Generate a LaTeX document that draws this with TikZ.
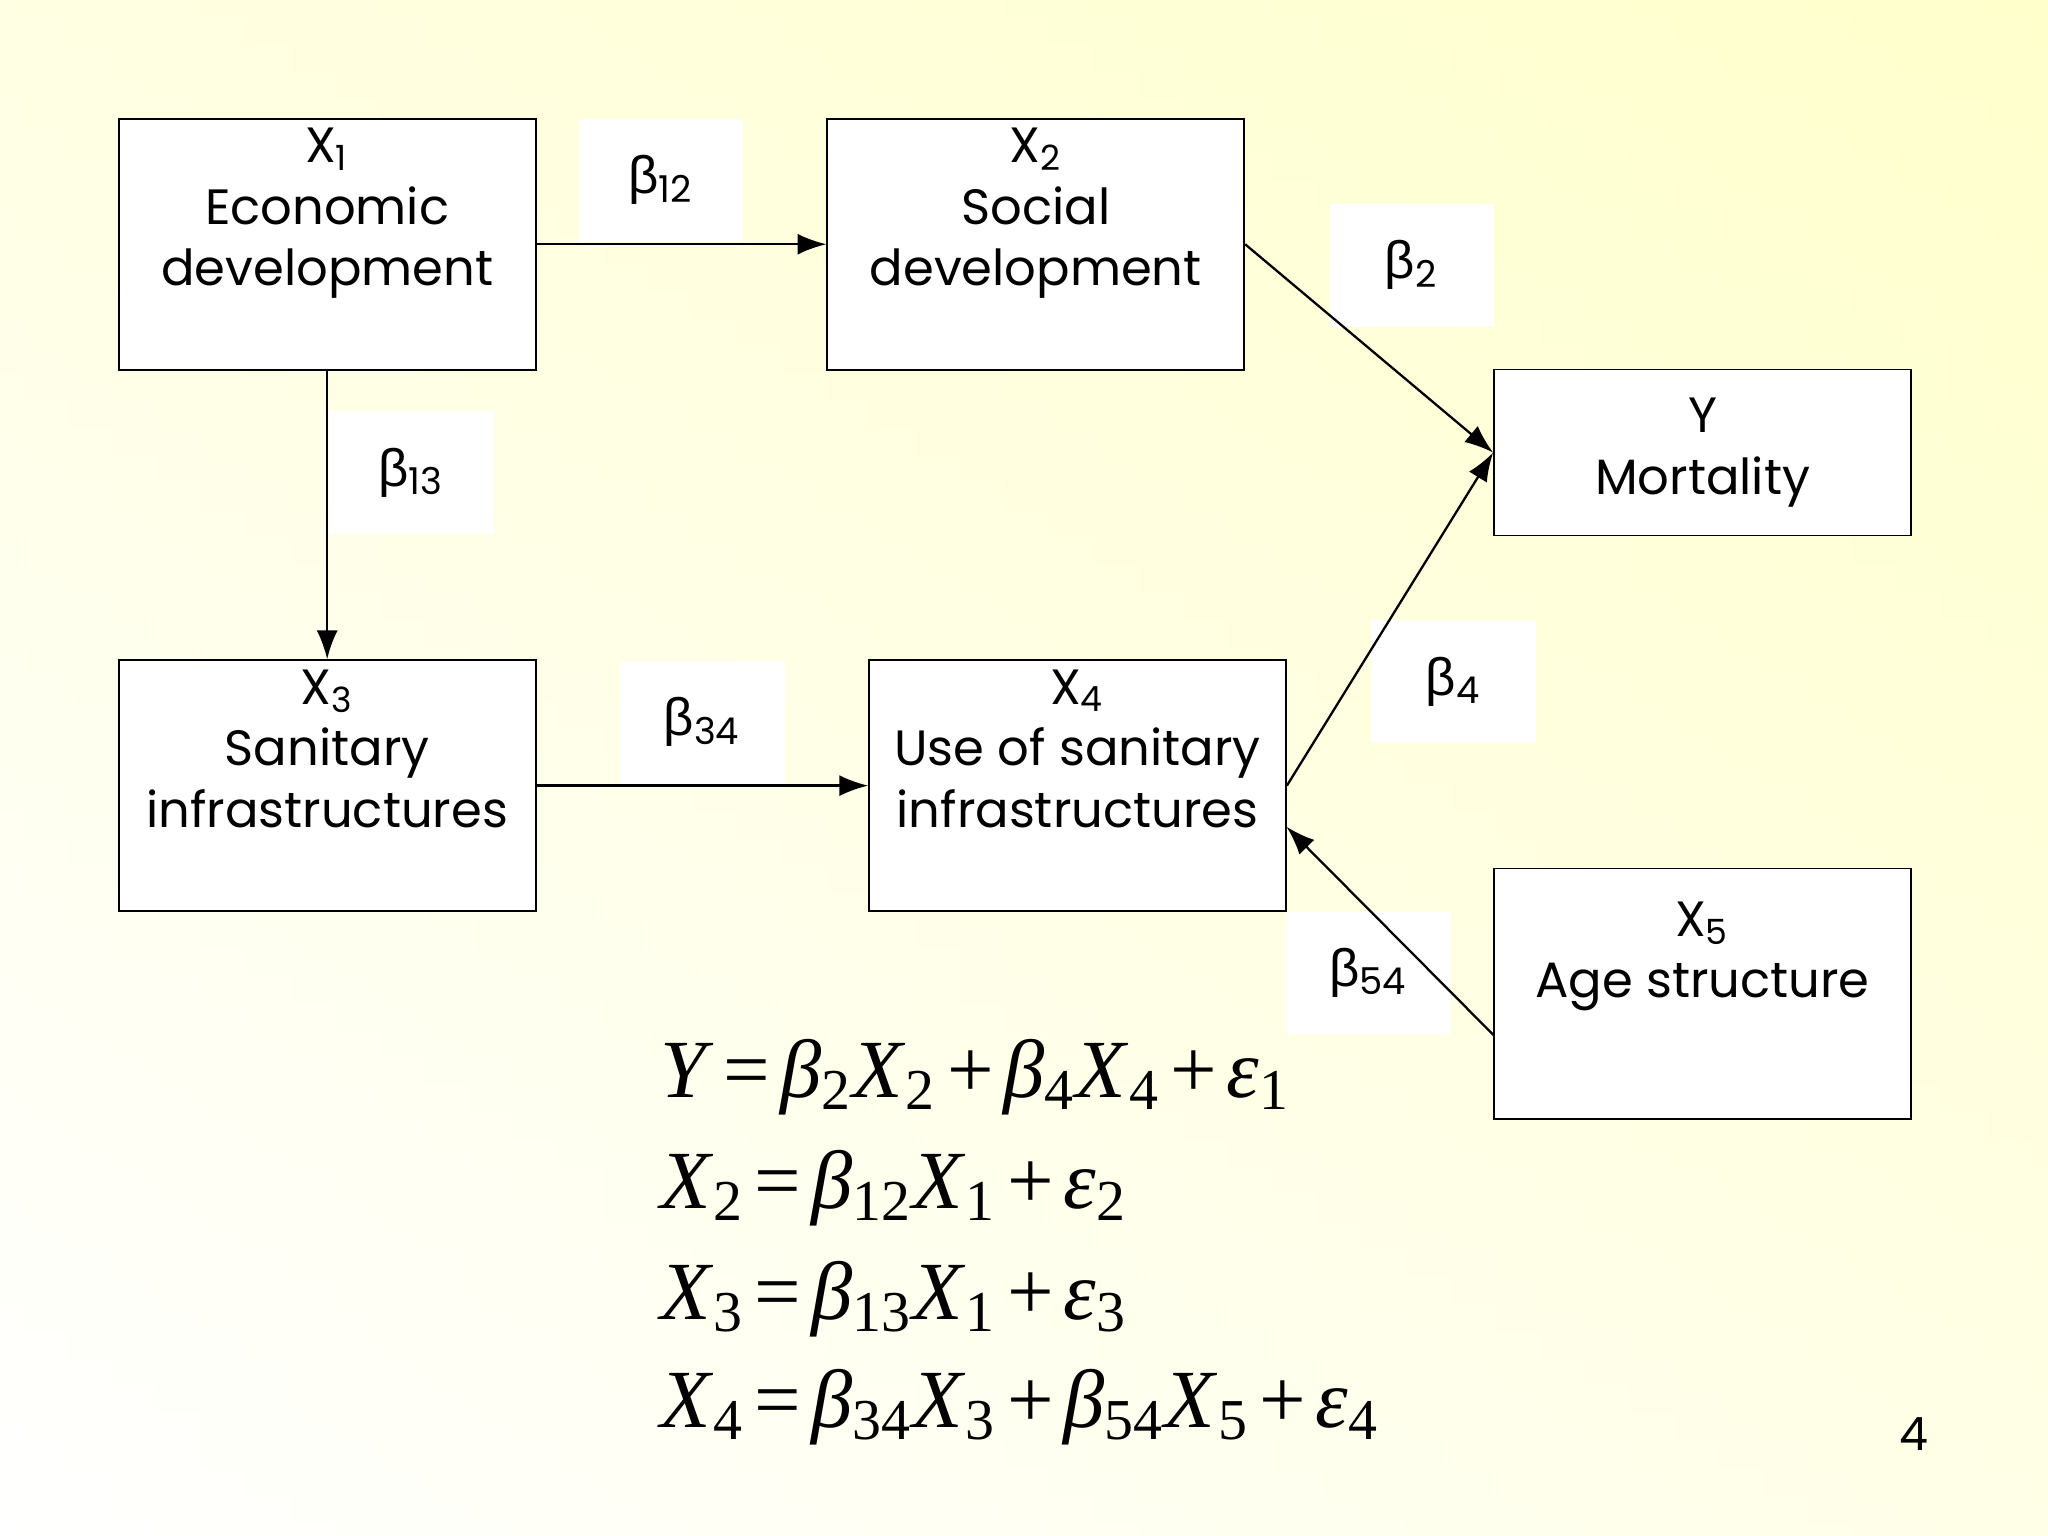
\documentclass[tikz,border=0pt]{standalone}
\usepackage{fontspec}
\setmainfont{Poppins}
\newfontfamily\tms{Liberation Serif}
\newfontfamily\lsans{Liberation Sans}
\usetikzlibrary{arrows.meta}
\newcommand\V[2]{\textit{#1}\textsubscript{#2}}
\newcommand\B[1]{{\lsans β}\textsubscript{#1}}
\newcommand\OP[1]{\hspace{0.12em}#1\hspace{0.12em}}
\begin{document}
\begin{tikzpicture}[x=0.01cm,y=-0.01cm,
  box/.style={draw,fill=white,minimum width=3.19cm,minimum height=1.92cm,align=center,inner sep=0pt,
    font=\fontsize{10.8}{13.4}\selectfont},
  lab/.style={fill=white,minimum width=1.26cm,minimum height=0.94cm,inner sep=0pt,font=\fontsize{11.5}{14}\selectfont},
  arr/.style={-{Latex[length=2.2mm,width=1.6mm]},line width=0.5pt},
  eq/.style={anchor=base west,inner sep=0pt,font=\tms\fontsize{18}{22}\selectfont}]
\useasboundingbox (0,0) rectangle (1568,1176);
\shade[shading angle=45, top color=yellow!22, bottom color=white] (0,0) rectangle (1568,1176);
\shade[left color=white, right color=yellow!18, opacity=0.5] (0,0) rectangle (1568,1176);
% labels
\node[lab] (b12) at (506,138) {\B{12}};
\node[lab] (b2) at (1081,203) {\B{2}};
\node[lab] (b13) at (315,362) {\B{13}};
\node[lab] (b34) at (538,553) {\B{34}};
\node[lab] (b4) at (1113,522) {\B{4}};
\node[lab] (b54) at (1048,745) {\B{54}};
% boxes
\node[box] (x1) at (250.5,187) {X\textsubscript{1}\\Economic\\development\\[0.1cm]};
\node[box] (x2) at (793,187) {X\textsubscript{2}\\Social\\development\\[0.1cm]};
\node[box,minimum height=1.27cm] (y) at (1303.5,346.5) {Y\\Mortality};
\node[box] (x3) at (250.5,601.5) {X\textsubscript{3}\\Sanitary\\infrastructures\\[0.1cm]};
\node[box] (x4) at (825,601.5) {X\textsubscript{4}\\Use of sanitary\\infrastructures\\[0.1cm]};
\node[box] (x5) at (1303.5,761) {};
\node[font=\fontsize{10.8}{13.4}\selectfont,align=center,anchor=north] (x5t) at (1303.5,678) {X\textsubscript{5}\\Age structure};
% arrows
\draw[arr] (x1.east) -- (x2.west);
\draw[arr] (x2.east) -- (y.west);
\draw[arr] (x1.south) -- (x3.north);
\draw[arr] (x3.east) -- (x4.west);
\draw[arr] (x4.east) -- (y.west);
\coordinate (x5w) at (1144,793);
\coordinate (x4e) at (985,633);
\draw[arr] (x5w) -- (x4e);
% equations
\node[eq] (e1) at (505,840) {\textit{Y}\OP{=}\V{β}{2}\V{X}{2}\OP{+}\V{β}{4}\V{X}{4}\OP{+}\V{ε}{1}};
\node[eq] (e2) at (505,925) {\V{X}{2}\OP{=}\V{β}{12}\V{X}{1}\OP{+}\V{ε}{2}};
\node[eq] (e3) at (505,1010) {\V{X}{3}\OP{=}\V{β}{13}\V{X}{1}\OP{+}\V{ε}{3}};
\node[eq] (e4) at (505,1093) {\V{X}{4}\OP{=}\V{β}{34}\V{X}{3}\OP{+}\V{β}{54}\V{X}{5}\OP{+}\V{ε}{4}};
\node[font=\fontsize{10}{12}\selectfont] (pg) at (1465,1098) {4};
\end{tikzpicture}
\end{document}
